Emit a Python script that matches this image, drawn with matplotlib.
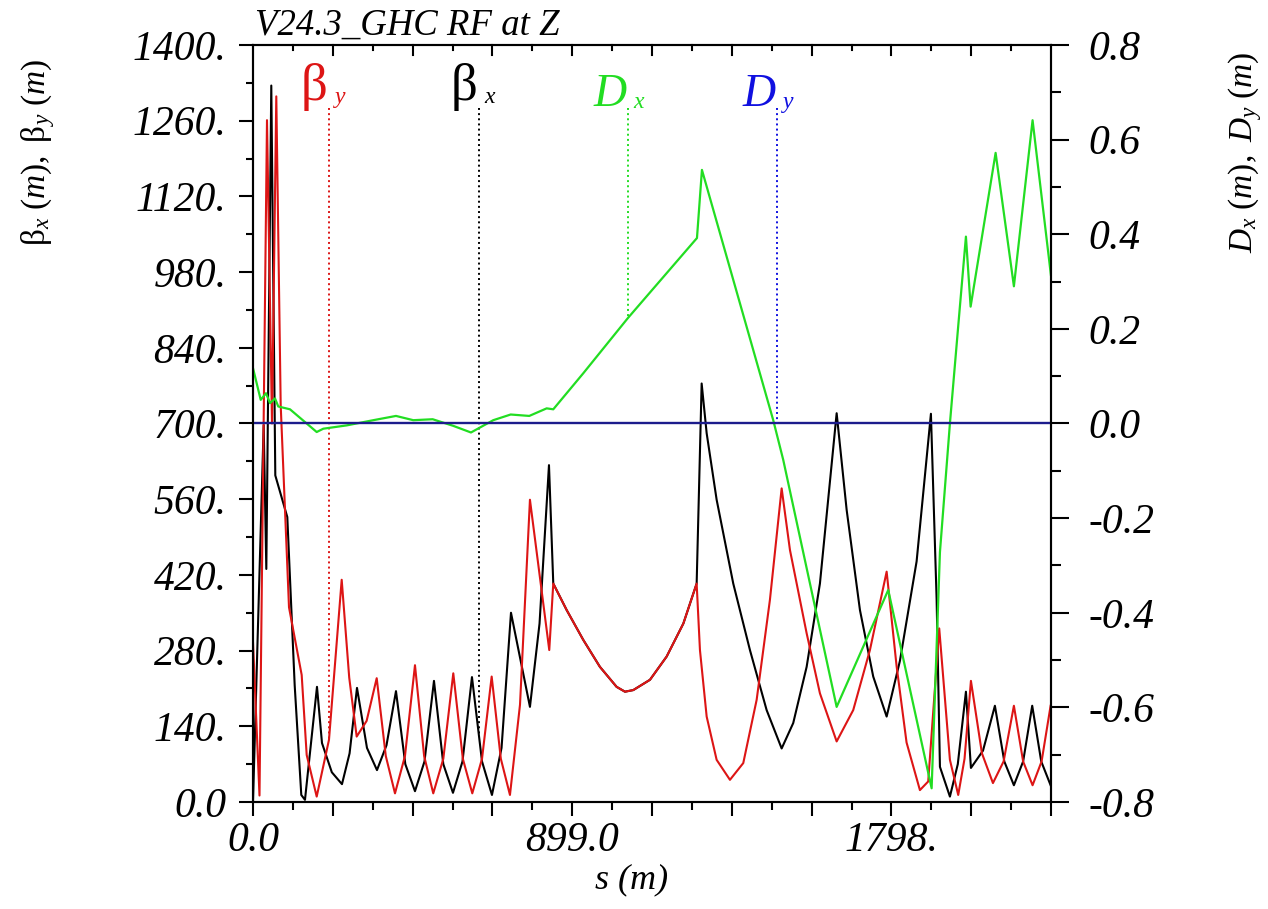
import numpy as np
import matplotlib
matplotlib.use("Agg")
import matplotlib.pyplot as plt
from matplotlib.ticker import FixedLocator, FixedFormatter, MultipleLocator

plt.rcParams['font.family'] = ['Liberation Serif', 'DejaVu Serif']
plt.rcParams['mathtext.fontset'] = 'custom'
plt.rcParams['mathtext.rm'] = 'Liberation Serif'
plt.rcParams['mathtext.it'] = 'Liberation Serif:italic'

# beta_x (black)
s_bx = [0, 30.1, 37.5, 51.5, 62.8, 96.6, 117.4, 136, 146.4, 180.2, 194.3, 222,
        250.6, 272, 292.9, 321, 349.2, 376, 402.7, 429, 456.2, 483, 509.7,
        536, 563.2, 590, 616.7, 645, 673, 700, 726.6, 780, 807, 833.6,
        845.7, 883.4, 930, 977, 1024, 1047.6, 1071, 1118, 1165, 1212, 1249.5,
        1263.6, 1277.7, 1305.8, 1352.6, 1399.6, 1446.6, 1488.9, 1521.5,
        1559.3, 1596.7, 1643.8, 1672, 1709.4, 1746.8, 1784.6, 1822, 1869,
        1909.3, 1925.4, 1934.7, 1962.8, 1985, 2007.9, 2022, 2056, 2089.5,
        2116, 2143, 2169, 2194.6, 2220, 2246.4]
beta_x = [1, 697, 431, 1325, 604, 527, 216, 13, 4, 213, 109, 55,
          33, 90, 211, 100, 59, 105, 205, 70, 20, 75, 224,
          70, 17, 75, 231, 75, 13, 100, 350, 176, 330, 623,
          404, 355, 300, 250, 213, 204, 207, 226, 269, 330, 404,
          774, 682, 559, 404, 281, 170, 99, 146,
          250, 404, 719, 540, 355, 232, 158, 261, 445,
          718, 374, 65, 10, 70, 204, 63, 95, 178,
          75, 31, 75, 178, 75, 31]

# beta_y (red)
s_by = [0, 18.3, 39.4, 53.5, 65.6, 78, 101.4, 137.1, 151.2, 179.4, 214,
        249.8, 271, 292, 320, 348.4, 374, 399.9, 428, 456.2, 482, 507.7,
        536, 564.1, 591, 617.6, 645, 672.2, 698, 723.7, 752, 780, 834.4,
        845.7, 883.4, 930, 977, 1024, 1047.6, 1071, 1118, 1165, 1212, 1249.5,
        1258.8, 1277.7, 1305.8, 1343.3, 1380.8, 1418.5, 1455.9, 1488.9,
        1512.3, 1559.3, 1596.7, 1643.8, 1690.5, 1737.5, 1784.6, 1812.5,
        1840.7, 1878.3, 1901.7, 1932.7, 1962.8, 1986.2, 2004, 2022, 2053,
        2084, 2114, 2143, 2169, 2195.6, 2221, 2246.4]
beta_y = [295, 12, 1261, 700, 1305, 734, 360, 235, 87, 10, 115,
          411, 230, 121, 150, 229, 85, 16, 85, 253, 85, 16,
          80, 238, 80, 16, 80, 232, 80, 13, 180, 559, 281,
          404, 355, 300, 250, 213, 204, 207, 226, 269, 330, 404,
          281, 158, 78, 41, 72, 189, 374, 580,
          466, 312, 201, 112, 170, 281, 426, 252,
          110, 22, 38, 321, 78, 13, 80, 224, 90,
          35, 75, 178, 75, 31, 75, 178]

# D_x (green)
s_dx = [0, 21.7, 36.6, 47.9, 62, 71.2, 104.2, 179.4, 198, 263.9, 338.8,
        402.7, 451.4, 506.1, 564.1, 613.9, 676.7, 725.7, 778.1, 827.1,
        845.7, 883.4, 930, 1056, 1250.4, 1264.4, 1465.2, 1493.4, 1643.8,
        1789.1, 1911.3, 1934.7, 1962.8, 1986.2, 2007.9, 2021.1, 2091.5,
        2143, 2195.6, 2247.2]
d_x = [0.117, 0.050, 0.064, 0.043, 0.053, 0.036, 0.030, -0.018, -0.011,
       -0.004, 0.007, 0.016, 0.007, 0.009, -0.005, -0.019, 0.007, 0.019,
       0.016, 0.032, 0.030, 0.064, 0.106, 0.223, 0.392, 0.536, 0.007,
       -0.077, -0.599, -0.352, -0.771, -0.272, 0.0, 0.206, 0.395, 0.247,
       0.572, 0.290, 0.641, 0.314]

# D_y (blue)
s_dy = [0, 2247.5]
d_y = [0.0, 0.0]

# curve label positions along s
lab_by, lab_bx, lab_dx, lab_dy = 214, 636, 1056, 1476

s_max = 2247.5
red = '#dd1515'
green = '#22dd22'
blue = '#1010e0'
navy = '#1c1c8c'

fig = plt.figure(figsize=(12.68, 9.09), dpi=100)
ax = fig.add_axes([253/1268, 1-802/909, (1051-253)/1268, (802-45)/909])
ax2 = ax.twinx()

ax.plot(s_bx, beta_x, color='black', lw=1.5)
ax.plot(s_by, beta_y, color=red, lw=1.5)
ax2.plot(s_dx, d_x, color=green, lw=1.6)
ax2.plot(s_dy, d_y, color=navy, lw=1.7)

ax.set_xlim(0, s_max)
ax.set_ylim(0, 1400)
ax2.set_ylim(-0.8, 0.8)

# dotted label lines
y_top = 1284
ax.plot([lab_by, lab_by], [y_top, np.interp(lab_by, s_by, beta_y)], ls=':', color=red, lw=1.4)
ax.plot([lab_bx, lab_bx], [y_top, np.interp(lab_bx, s_bx, beta_x)], ls=':', color='black', lw=1.4)
d_top = 0.667
ax2.plot([lab_dx, lab_dx], [d_top, np.interp(lab_dx, s_dx, d_x)], ls=':', color=green, lw=1.4)
ax2.plot([lab_dy, lab_dy], [d_top, np.interp(lab_dy, s_dy, d_y)], ls=':', color=blue, lw=1.4)

def curve_label(a, s, y, big, sub, color, big_style, size):
    a.annotate(big, (s, y), xytext=(-1, 0), textcoords='offset points',
               ha='right', va='baseline', color=color, fontsize=size, style=big_style)
    a.annotate(sub, (s, y), xytext=(4, -2), textcoords='offset points',
               ha='left', va='baseline', color=color, fontsize=17, style='italic')

curve_label(ax, lab_by, 1298, 'β', 'y', red, 'normal', 38)
curve_label(ax, lab_bx, 1298, 'β', 'x', 'black', 'normal', 38)
curve_label(ax2, lab_dx, 0.672, 'D', 'x', green, 'italic', 33)
curve_label(ax2, lab_dy, 0.672, 'D', 'y', blue, 'italic', 33)

# ticks
xmaj = [224.75 * k for k in range(11)]
xlab = ['' for _ in xmaj]
xlab[0], xlab[4], xlab[8] = '0.0', '899.0', '1798.'
ax.xaxis.set_major_locator(FixedLocator(xmaj))
ax.xaxis.set_major_formatter(FixedFormatter(xlab))
ax.xaxis.set_minor_locator(MultipleLocator(112.375))

yl = np.arange(0, 1401, 140)
ax.yaxis.set_major_locator(FixedLocator(yl))
ax.yaxis.set_major_formatter(FixedFormatter(['0.0'] + ['%d.' % v for v in yl[1:]]))
ax.yaxis.set_minor_locator(MultipleLocator(70))

dl = np.linspace(-0.8, 0.8, 9)
ax2.yaxis.set_major_locator(FixedLocator(dl))
ax2.yaxis.set_major_formatter(FixedFormatter(['%.1f' % v if abs(v) > 1e-9 else '0.0' for v in dl]))
ax2.yaxis.set_minor_locator(MultipleLocator(0.1))

ax.tick_params(axis='x', which='both', direction='out', bottom=True, top=False,
               labelsize=30, pad=4, width=1.5)
ax.tick_params(axis='x', which='major', length=10)
ax.tick_params(axis='x', which='minor', length=6)
# inward ticks along the top edge
for k in xmaj[1:-1]:
    ax.plot([k, k], [1400, 1400 - 18], color='black', lw=1.5, clip_on=False)
for k in np.arange(112.375, s_max, 224.75):
    ax.plot([k, k], [1400, 1400 - 10], color='black', lw=1.5, clip_on=False)

ax.tick_params(axis='y', which='both', direction='out', labelsize=30, pad=9, width=1.5)
ax.tick_params(axis='y', which='major', length=10)
ax.tick_params(axis='y', which='minor', length=5)
ax2.tick_params(axis='y', which='both', direction='out', labelsize=30, pad=14, width=1.5)
ax2.tick_params(axis='y', which='major', length=13)
ax2.tick_params(axis='y', which='minor', length=7)

for lbl in ax.get_xticklabels() + ax.get_yticklabels() + ax2.get_yticklabels():
    lbl.set_style('italic')

for a in (ax, ax2):
    for sp in a.spines.values():
        sp.set_linewidth(1.5)

fig.text(255/1268, 1-35/909, 'V24.3_GHC RF at Z', fontsize=26.5, style='italic',
         ha='left', va='baseline')
fig.text(632/1268, 1-880/909, 's (m)', fontsize=26, style='italic',
         ha='center', va='center')
fig.text(38/1268, 1-152/909, r'$\mathrm{β}_{x}\ (m),\ \mathrm{β}_{y}\ (m)$',
         fontsize=24, rotation=90, ha='center', va='center')
fig.text(1245/1268, 1-152/909, r'$D_{x}\ (m),\ D_{y}\ (m)$',
         fontsize=24, rotation=90, ha='center', va='center')

fig.savefig('out.png', dpi=100)
